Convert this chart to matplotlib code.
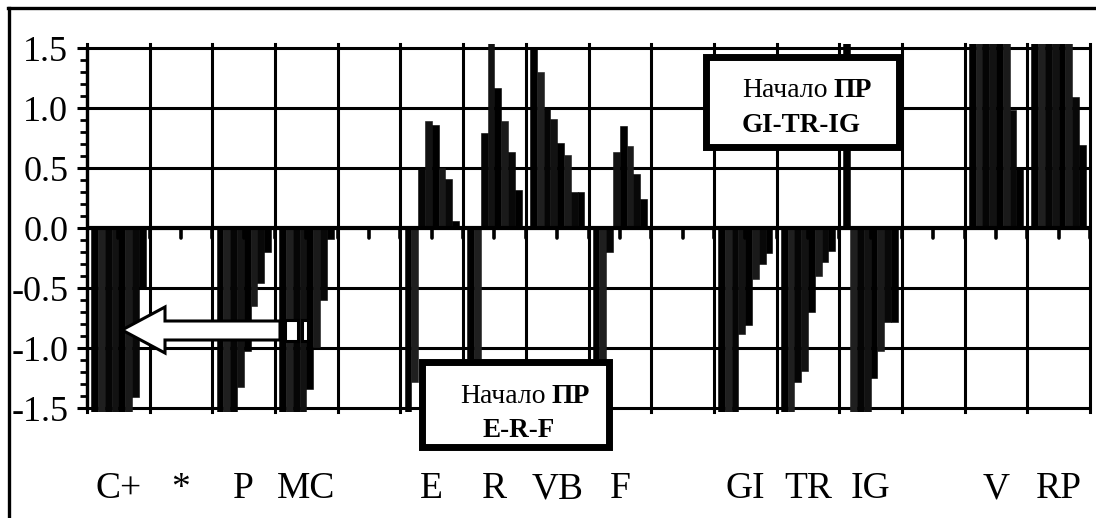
import numpy as np
import matplotlib
matplotlib.use("Agg")
import matplotlib.pyplot as plt
import matplotlib.patches as patches
from matplotlib.lines import Line2D
from matplotlib.ticker import MultipleLocator

plt.rcParams['font.family'] = ['Liberation Serif', 'DejaVu Serif']

# categories along the axis (blank ones are gaps)
categories = ['C+', '*', 'P', 'MC', '', 'E', 'R', 'VB', 'F', '', 'GI', 'TR', 'IG', '', 'V', 'RP']

# eight bars per category (values beyond +-1.5 are off scale)
series_1 = [-1.6, 0, -1.6, -1.6, 0, -1.6, -1.6, 1.5, -1.6, 0, -1.6, -1.6, 1.6, 0, 1.6, 1.6]
series_2 = [-1.6, 0, -1.6, -1.6, 0, -1.28, -1.6, 1.30, -1.6, 0, -1.6, -1.6, -1.6, 0, 1.6, 1.6]
series_3 = [-1.6, 0, -1.6, -1.6, 0, 0.49, 0.79, 0.99, -0.2, 0, -1.6, -1.28, -1.6, 0, 1.6, 1.6]
series_4 = [-1.6, 0, -1.32, -1.6, 0, 0.89, 1.6, 0.91, 0.63, 0, -0.88, -1.19, -1.6, 0, 1.6, 1.6]
series_5 = [-1.6, 0, -1.02, -1.34, 0, 0.86, 1.17, 0.71, 0.85, 0, -0.81, -0.70, -1.25, 0, 1.6, 1.6]
series_6 = [-1.6, 0, -0.65, -0.99, 0, 0.50, 0.89, 0.61, 0.68, 0, -0.42, -0.40, -1.02, 0, 1.6, 1.6]
series_7 = [-1.41, 0, -0.46, -0.60, 0, 0.41, 0.63, 0.30, 0.45, 0, -0.30, -0.28, -0.78, 0, 0.98, 1.09]
series_8 = [-0.51, 0, -0.20, -0.09, 0, 0.06, 0.32, 0.30, 0.24, 0, -0.21, -0.19, -0.78, 0, 0.49, 0.69]

all_series = [series_1, series_2, series_3, series_4, series_5, series_6, series_7, series_8]
bar_colors = ['#000000', '#1f1f1f', '#050505', '#121212', '#000000', '#1a1a1a', '#080808', '#000000']

W, H = 1096, 518
def fx(x):
    return x / W
def fy(y):
    return 1 - y / H

fig = plt.figure(figsize=(W / 100, H / 100), dpi=100)
ax = fig.add_axes([fx(87), fy(411.9), (1090 - 87) / W, (411.9 - 44.4) / H])

x = np.arange(len(categories))
bw = 0.1085
for j, vals in enumerate(all_series):
    ax.bar(x + (j - 3.5) * bw, vals, width=bw, color=bar_colors[j],
           edgecolor=bar_colors[j], linewidth=0.4, zorder=3)

ax.set_xlim(-0.5, len(categories) - 0.5)
ax.set_ylim(-1.53, 1.53)

# grid
for b in np.arange(-0.5, len(categories), 1.0):
    ax.axvline(b, color='black', lw=2.2, zorder=1, clip_on=False)
for yv in np.arange(-1.5, 1.51, 0.5):
    ax.axhline(yv, color='black', lw=2.2, zorder=1)
ax.axhline(0, color='black', lw=3, zorder=4)

# little tick stubs under the zero line
stubs = np.arange(-0.5, len(categories), 0.5)
ax.vlines(stubs, 0, -0.085, color='black', lw=2.6, zorder=4, capstyle='round')

for s in ['top', 'right', 'bottom']:
    ax.spines[s].set_visible(False)
ax.spines['left'].set_linewidth(2.4)
ax.spines['left'].set_bounds(-1.5, 1.5)
ax.spines['left'].set_zorder(5)

yt = np.arange(-1.5, 1.51, 0.5)
ax.set_yticks(yt, labels=['%.1f' % v for v in yt], fontsize=26)
ax.yaxis.set_minor_locator(MultipleLocator(0.1))
ax.tick_params(axis='y', which='major', direction='out', length=7.5, width=2.2, pad=6)
ax.tick_params(axis='y', which='minor', direction='out', length=5, width=2.0)

ax.set_xticks(x, labels=categories, fontsize=27, va='baseline')
ax.tick_params(axis='x', length=0, pad=62)

# note boxes
def note_box(x0, y0, x1, y1):
    r = patches.Rectangle((fx(x0), fy(y1)), (x1 - x0) / W, (y1 - y0) / H,
                          transform=fig.transFigure, fc='white', ec='black',
                          lw=5, zorder=10)
    fig.add_artist(r)

note_box(705.5, 56.5, 898.5, 146.5)
fig.text(fx(828), fy(96.7), 'Начало', fontsize=20, ha='right', va='baseline', zorder=11)
fig.text(fx(834), fy(96.7), 'ПР', fontsize=20, fontweight='bold', ha='left', va='baseline', zorder=11)
fig.text(fx(801), fy(131.7), 'GI-TR-IG', fontsize=19.5, fontweight='bold', ha='center', va='baseline', zorder=11)

note_box(421.5, 361.5, 608.5, 446.5)
fig.text(fx(546), fy(403.3), 'Начало', fontsize=20, ha='right', va='baseline', zorder=11)
fig.text(fx(551), fy(403.3), 'ПР', fontsize=20, fontweight='bold', ha='left', va='baseline', zorder=11)
fig.text(fx(519), fy(436.7), 'E-R-F', fontsize=19.5, fontweight='bold', ha='center', va='baseline', zorder=11)

# striped block arrow pointing left
arrow_pts = [(122, 330), (165, 307), (165, 321), (280, 321), (280, 340),
             (165, 340), (165, 353)]
fig.add_artist(patches.Polygon([(fx(a), fy(b)) for a, b in arrow_pts], closed=True,
                               transform=fig.transFigure, fc='white', ec='black',
                               lw=2.2, joinstyle='miter', zorder=10))
for a0, a1 in [(285, 298), (302, 308)]:
    fig.add_artist(patches.Rectangle((fx(a0), fy(341)), (a1 - a0) / W, 21 / H,
                                     transform=fig.transFigure, fc='white', ec='black',
                                     lw=2.2, zorder=10))

# outer frame (top and left visible)
fig.add_artist(Line2D([fx(8), fx(1100)], [fy(7.5), fy(7.5)], color='black', lw=2.4))
fig.add_artist(Line2D([fx(9), fx(9)], [fy(7.5), fy(530)], color='black', lw=2.4))

fig.savefig('out.png', dpi=100)
